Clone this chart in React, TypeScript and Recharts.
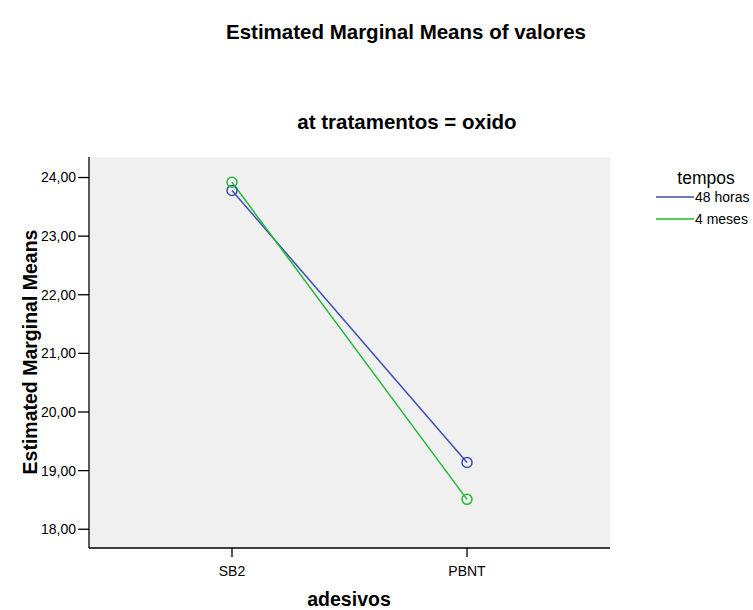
import React from 'react';
import { LineChart, Line, XAxis, YAxis, CartesianGrid } from 'recharts';

const adesivos = ['SB2', 'PBNT'];
const horas48 = [23.78, 19.14];
const meses4 = [23.92, 18.51];
const yTicks = [18, 19, 20, 21, 22, 23, 24];

const data = adesivos.map((a, i) => ({ adesivo: a, h48: horas48[i], m4: meses4[i] }));

const FONT = 'Arial, "Liberation Sans", sans-serif';
const BLUE = '#3d4fb3';
const GREEN = '#26b83a';

const fmt = (v: number) => v.toFixed(2).replace('.', ',');

export default function App() {
    return (
        <div style={{ position: 'absolute', left: 0, top: 0, width: 753, height: 610, background: '#fff', fontFamily: FONT }}>
            <LineChart
                width={753}
                height={610}
                data={data}
                margin={{ top: 157, right: 143, bottom: 0, left: 0 }}
            >
                <CartesianGrid fill="#f0f0f0" horizontal={false} vertical={false} />
                <XAxis
                    dataKey="adesivo"
                    padding={{ left: 143, right: 143 }}
                    height={62}
                    axisLine={{ stroke: '#000', strokeWidth: 1.3 }}
                    tickLine={{ stroke: '#000', strokeWidth: 1.3 }}
                    tickSize={9}
                    tick={{ fill: '#000', fontSize: 14, fontFamily: FONT }}
                    tickMargin={9}
                />
                <XAxis xAxisId="top" orientation="top" dataKey="adesivo" height={0} tick={false} tickLine={false} axisLine={{ stroke: '#000', strokeWidth: 1.3 }} />
                <YAxis
                    domain={[17.68, 24.35]}
                    ticks={yTicks}
                    tickFormatter={fmt}
                    width={89}
                    allowDataOverflow
                    axisLine={{ stroke: '#000', strokeWidth: 1.3 }}
                    tickLine={{ stroke: '#000', strokeWidth: 1.3 }}
                    tickSize={11}
                    tick={{ fill: '#000', fontSize: 14, fontFamily: FONT }}
                    tickMargin={2}
                />
                <YAxis yAxisId="right" orientation="right" width={0} domain={[17.68, 24.35]} tick={false} tickLine={false} axisLine={{ stroke: '#000', strokeWidth: 1.3 }} />
                <Line
                    dataKey="h48"
                    stroke={BLUE}
                    strokeWidth={1.5}
                    dot={{ r: 5, fill: 'none', stroke: BLUE, strokeWidth: 1.5 }}
                    activeDot={false}
                    isAnimationActive={false}
                />
                <Line
                    dataKey="m4"
                    stroke={GREEN}
                    strokeWidth={1.5}
                    dot={{ r: 5, fill: 'none', stroke: GREEN, strokeWidth: 1.5 }}
                    activeDot={false}
                    isAnimationActive={false}
                />
                <text x={406} y={39} textAnchor="middle" fontSize={20.5} fontWeight="bold" fontFamily={FONT} fill="#000">
                    Estimated Marginal Means of valores
                </text>
                <text x={407} y={129} textAnchor="middle" fontSize={20.5} fontWeight="bold" fontFamily={FONT} fill="#000">
                    at tratamentos = oxido
                </text>
                <text x={349} y={606} textAnchor="middle" fontSize={19.5} fontWeight="bold" fontFamily={FONT} fill="#000">
                    adesivos
                </text>
                <text
                    x={30}
                    y={352}
                    textAnchor="middle"
                    fontSize={19.5}
                    fontWeight="bold"
                    fontFamily={FONT}
                    fill="#000"
                    transform="rotate(-90 30 352)"
                    dominantBaseline="central"
                >
                    Estimated Marginal Means
                </text>
                <text x={706} y={184} textAnchor="middle" fontSize={17.5} fontFamily={FONT} fill="#000">
                    tempos
                </text>
                <line x1={656} x2={694} y1={197} y2={197} stroke={BLUE} strokeWidth={1.5} />
                <text x={695} y={202} fontSize={14} fontFamily={FONT} fill="#000">
                    48 horas
                </text>
                <line x1={656} x2={694} y1={219} y2={219} stroke={GREEN} strokeWidth={1.5} />
                <text x={695} y={224} fontSize={14} fontFamily={FONT} fill="#000">
                    4 meses
                </text>
            </LineChart>
        </div>
    );
}
